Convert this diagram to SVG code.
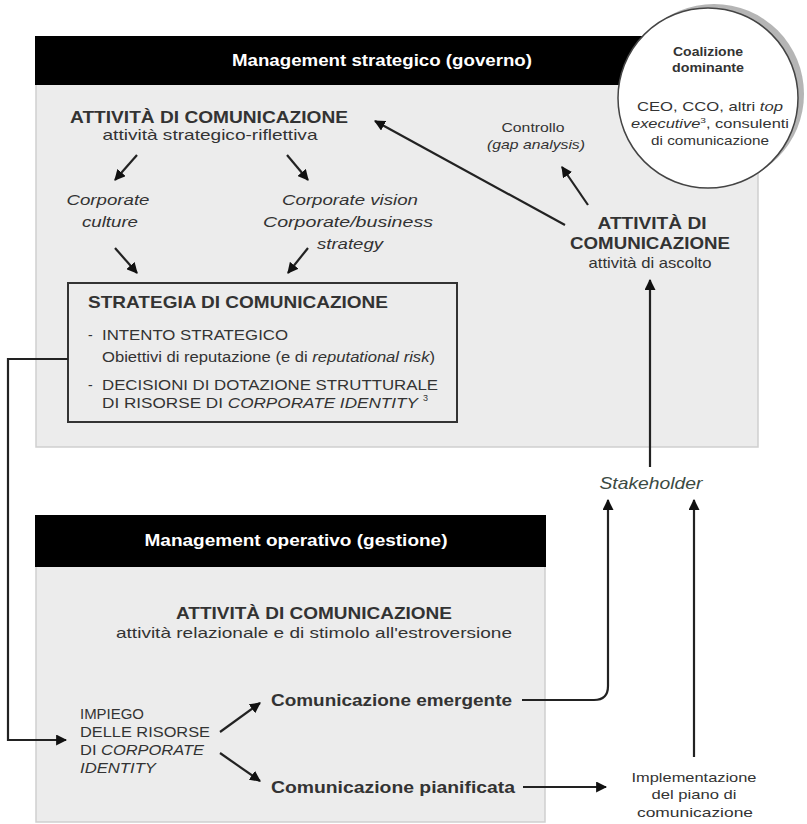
<svg xmlns="http://www.w3.org/2000/svg" width="807" height="824" viewBox="0 0 807 824">
<defs>
<style>
.t{font-family:"Liberation Sans",Arial,sans-serif;fill:#333}
.w{fill:#fff}
.b{font-weight:bold}
.i{font-style:italic}
.c{text-anchor:middle}
.ln{stroke:#222;stroke-width:2.2;fill:none}
.panel{fill:#ececec;stroke:#cfcfcf;stroke-width:1.5}
.hdr{fill:#000}
</style>
<marker id="ah" viewBox="0 0 10 10" refX="9" refY="5" markerWidth="5" markerHeight="5" orient="auto" markerUnits="strokeWidth">
<path d="M0,0 L10,5 L0,10 z" fill="#111"/>
</marker>
</defs>
<rect width="807" height="824" fill="#fff"/>

<g id="strategic-panel">
<rect class="panel" x="36" y="84" width="722" height="363"/>
<rect class="hdr" x="35" y="36" width="680" height="49"/>
<text class="t w b c" x="382" y="66" font-size="16" textLength="300" lengthAdjust="spacingAndGlyphs">Management strategico (governo)</text>
</g>

<g id="coalizione">
<circle cx="714" cy="94" r="90" fill="#b5b5b5"/>
<circle cx="708" cy="98" r="90" fill="#fff" stroke="#444" stroke-width="1.5"/>
<text class="t b c" x="708" y="56" font-size="13" textLength="70" lengthAdjust="spacingAndGlyphs">Coalizione</text>
<text class="t b c" x="708" y="72" font-size="13" textLength="72" lengthAdjust="spacingAndGlyphs">dominante</text>
<text class="t c" x="710" y="111" font-size="13" textLength="146" lengthAdjust="spacingAndGlyphs">CEO, CCO, altri <tspan class="i">top</tspan></text>
<text class="t c" x="710" y="128" font-size="13" textLength="158" lengthAdjust="spacingAndGlyphs"><tspan class="i">executive</tspan><tspan font-size="8" dy="-5">3</tspan><tspan dy="5">, consulenti</tspan></text>
<text class="t c" x="710" y="145" font-size="13" textLength="118" lengthAdjust="spacingAndGlyphs">di comunicazione</text>
</g>

<g id="attivita-riflettiva">
<text class="t b c" x="209" y="123" font-size="17" textLength="278" lengthAdjust="spacingAndGlyphs">ATTIVITÀ DI COMUNICAZIONE</text>
<text class="t c" x="210" y="140" font-size="15" textLength="215" lengthAdjust="spacingAndGlyphs">attività strategico-riflettiva</text>
</g>

<g id="corporate-culture">
<text class="t i c" x="108" y="205" font-size="15" textLength="83" lengthAdjust="spacingAndGlyphs">Corporate</text>
<text class="t i c" x="110" y="227" font-size="15" textLength="56" lengthAdjust="spacingAndGlyphs">culture</text>
</g>

<g id="corporate-vision">
<text class="t i c" x="350" y="205" font-size="15" textLength="136" lengthAdjust="spacingAndGlyphs">Corporate vision</text>
<text class="t i c" x="348" y="227" font-size="15" textLength="170" lengthAdjust="spacingAndGlyphs">Corporate/business</text>
<text class="t i c" x="350" y="249" font-size="15" textLength="66" lengthAdjust="spacingAndGlyphs">strategy</text>
</g>

<g id="strategia">
<rect x="68" y="283" width="389" height="139" fill="none" stroke="#333" stroke-width="2"/>
<text class="t b" x="88" y="308" font-size="17" textLength="300" lengthAdjust="spacingAndGlyphs">STRATEGIA DI COMUNICAZIONE</text>
<text class="t" x="88" y="340" font-size="14">-</text>
<text class="t" x="102" y="340" font-size="14" textLength="186" lengthAdjust="spacingAndGlyphs">INTENTO STRATEGICO</text>
<text class="t" x="102" y="362" font-size="14" textLength="333" lengthAdjust="spacingAndGlyphs">Obiettivi di reputazione (e di <tspan class="i">reputational risk</tspan>)</text>
<text class="t" x="88" y="390" font-size="14">-</text>
<text class="t" x="102" y="390" font-size="14" textLength="336" lengthAdjust="spacingAndGlyphs">DECISIONI DI DOTAZIONE STRUTTURALE</text>
<text class="t" x="102" y="408" font-size="14" textLength="316" lengthAdjust="spacingAndGlyphs">DI RISORSE DI <tspan class="i">CORPORATE IDENTITY</tspan></text>
<text class="t" x="423" y="401" font-size="9">3</text>
</g>

<g id="controllo">
<text class="t c" x="533" y="132" font-size="13" textLength="63" lengthAdjust="spacingAndGlyphs">Controllo</text>
<text class="t i c" x="536" y="149" font-size="13" textLength="98" lengthAdjust="spacingAndGlyphs">(gap analysis)</text>
</g>

<g id="attivita-ascolto">
<text class="t b c" x="652" y="229" font-size="17" textLength="109" lengthAdjust="spacingAndGlyphs">ATTIVITÀ DI</text>
<text class="t b c" x="650" y="249" font-size="17" textLength="160" lengthAdjust="spacingAndGlyphs">COMUNICAZIONE</text>
<text class="t c" x="650" y="268" font-size="15" textLength="123" lengthAdjust="spacingAndGlyphs">attività di ascolto</text>
</g>

<g id="stakeholder">
<text class="i" x="651" y="489" font-family="Liberation Sans, Arial, sans-serif" font-size="17" fill="#3b4a42" text-anchor="middle" textLength="103" lengthAdjust="spacingAndGlyphs">Stakeholder</text>
</g>

<g id="operative-panel">
<rect class="panel" x="36" y="566" width="509" height="256"/>
<rect class="hdr" x="35" y="515" width="511" height="52"/>
<text class="t w b c" x="296" y="546" font-size="16" textLength="303" lengthAdjust="spacingAndGlyphs">Management operativo (gestione)</text>
</g>

<g id="attivita-relazionale">
<text class="t b c" x="314" y="619" font-size="17" textLength="276" lengthAdjust="spacingAndGlyphs">ATTIVITÀ DI COMUNICAZIONE</text>
<text class="t c" x="314" y="638" font-size="15" textLength="396" lengthAdjust="spacingAndGlyphs">attività relazionale e di stimolo all'estroversione</text>
</g>

<g id="impiego">
<text class="t" x="80" y="719" font-size="14" textLength="64" lengthAdjust="spacingAndGlyphs">IMPIEGO</text>
<text class="t" x="80" y="737" font-size="14" textLength="130" lengthAdjust="spacingAndGlyphs">DELLE RISORSE</text>
<text class="t" x="80" y="755" font-size="14" textLength="124" lengthAdjust="spacingAndGlyphs">DI <tspan class="i">CORPORATE</tspan></text>
<text class="t i" x="80" y="773" font-size="14" textLength="76" lengthAdjust="spacingAndGlyphs">IDENTITY</text>
</g>

<g id="emergente">
<text class="t b" x="271" y="706" font-size="16" textLength="241" lengthAdjust="spacingAndGlyphs">Comunicazione emergente</text>
</g>

<g id="pianificata">
<text class="t b" x="271" y="793" font-size="16" textLength="244" lengthAdjust="spacingAndGlyphs">Comunicazione pianificata</text>
</g>

<g id="implementazione">
<text class="t c" x="694" y="782" font-size="13" textLength="125" lengthAdjust="spacingAndGlyphs">Implementazione</text>
<text class="t c" x="694" y="799" font-size="13" textLength="85" lengthAdjust="spacingAndGlyphs">del piano di</text>
<text class="t c" x="695" y="817" font-size="13" textLength="116" lengthAdjust="spacingAndGlyphs">comunicazione</text>
</g>

<g id="connectors">
<line class="ln" x1="137" y1="155" x2="115" y2="180" marker-end="url(#ah)"/>
<line class="ln" x1="287" y1="155" x2="308" y2="180" marker-end="url(#ah)"/>
<line class="ln" x1="115" y1="248" x2="137" y2="273" marker-end="url(#ah)"/>
<line class="ln" x1="308" y1="248" x2="288" y2="273" marker-end="url(#ah)"/>
<line class="ln" x1="565" y1="225" x2="375" y2="121" marker-end="url(#ah)"/>
<line class="ln" x1="588" y1="205" x2="562" y2="167" marker-end="url(#ah)"/>
<line class="ln" x1="650" y1="467" x2="650" y2="280" marker-end="url(#ah)"/>
<path class="ln" d="M68,359 H8 V740 H66" marker-end="url(#ah)"/>
<line class="ln" x1="220" y1="732" x2="260" y2="703" marker-end="url(#ah)"/>
<line class="ln" x1="220" y1="753" x2="260" y2="781" marker-end="url(#ah)"/>
<path class="ln" d="M522,700 H594 Q608,700 608,686 V500" marker-end="url(#ah)"/>
<line class="ln" x1="523" y1="787" x2="606" y2="787" marker-end="url(#ah)"/>
<line class="ln" x1="694" y1="757" x2="694" y2="500" marker-end="url(#ah)"/>
</g>
</svg>
